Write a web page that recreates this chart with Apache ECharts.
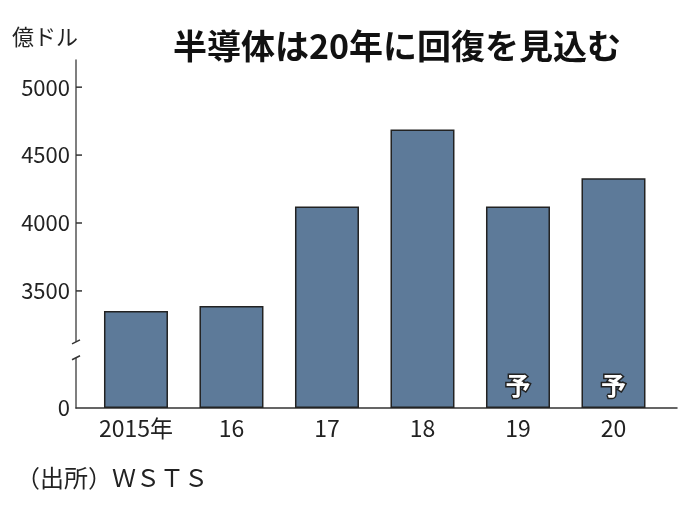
<!DOCTYPE html>
<html><head><meta charset="utf-8">
<script src="https://cdn.jsdelivr.net/npm/echarts@6/dist/echarts.min.js"></script>
<style>html,body{margin:0;padding:0;background:#fff}#c{width:696px;height:510px}</style>
</head><body><div id="c"></div>
<script>
const categories = ['2015年', '16', '17', '18', '19', '20'];
const values = [3352, 3389, 4122, 4688, 4121, 4330];
const forecast = [false, false, false, false, true, true];
const yTicks = [0, 3500, 4000, 4500, 5000];
const breakRange = [370, 3125];

const FONT = '"Noto Sans CJK JP", "Noto Sans", sans-serif';
const chart = echarts.init(document.getElementById('c'));
const X_MIN = -0.628;
chart.setOption({
  backgroundColor: '#fff',
  animation: false,
  title: {
    text: '半導体は20年に回復を見込む',
    left: 392, top: 24, textAlign: 'center',
    textStyle: { fontFamily: FONT, fontSize: 34, fontWeight: 'bold', color: '#111' }
  },
  grid: { left: 76, right: 19, top: 60, bottom: 102 },
  xAxis: {
    type: 'value', min: X_MIN, max: 5.665,
    splitLine: { show: false },
    axisLine: { show: true, onZero: false, lineStyle: { color: '#333', width: 1.5 } },
    axisTick: { show: false },
    axisLabel: {
      customValues: categories.map((c, i) => i),
      formatter: v => categories[Math.round(v)],
      fontFamily: FONT, fontSize: 23, color: '#222', margin: 9
    }
  },
  yAxis: {
    type: 'value', min: 0, max: 5200,
    breaks: [{ start: breakRange[0], end: breakRange[1], gap: 117 }],
    breakArea: { show: false },
    splitLine: { show: false },
    axisLine: { show: true, onZero: false, lineStyle: { color: '#555', width: 1.5 } },
    axisTick: { show: false },
    axisLabel: { customValues: yTicks, formatter: v => String(v), fontFamily: FONT, fontSize: 22, color: '#222', margin: 6 }
  },
  series: [{
    type: 'bar',
    barWidth: 64,
    data: values.map((v, i) => ({
      value: [i, v],
      label: forecast[i] ? {
        show: true, formatter: '予', position: 'insideBottom', distance: 10,
        fontFamily: FONT, fontSize: 25, fontWeight: 'bold', color: '#fff',
        textBorderColor: '#222', textBorderWidth: 3
      } : { show: false }
    })),
    itemStyle: { color: '#5d7a99', borderColor: '#222', borderWidth: 1.5 }
  }]
});
// break marks and ticks on the y axis line, placed via the axis scale
const pLow = chart.convertToPixel({ gridIndex: 0 }, [X_MIN, breakRange[0]]);
const pHigh = chart.convertToPixel({ gridIndex: 0 }, [X_MIN, breakRange[1]]);
const ax = pLow[0];
const tickMarks = yTicks.filter(t => t > 0).map(t => {
  const p = chart.convertToPixel({ gridIndex: 0 }, [X_MIN, t]);
  return { type: 'line', shape: { x1: ax, y1: p[1], x2: ax + 6, y2: p[1] }, style: { stroke: '#333', lineWidth: 1.5 }, z: 101 };
});
chart.setOption({
  graphic: [
    { type: 'text', left: 12, top: 26, style: { text: '億ドル', font: '22px ' + FONT, fill: '#222' } },
    { type: 'text', left: 16, top: 466, style: { text: '（出所）ＷＳＴＳ', font: '24px ' + FONT, fill: '#222' } },
    { type: 'rect', shape: { x: ax - 3, y: pHigh[1], width: 6, height: pLow[1] - pHigh[1] }, style: { fill: '#fff' }, z: 100 },
    { type: 'line', shape: { x1: ax - 4, y1: pHigh[1] + 2, x2: ax + 4, y2: pHigh[1] - 2 }, style: { stroke: '#333', lineWidth: 1.5 }, z: 101 },
    { type: 'line', shape: { x1: ax - 4, y1: pLow[1] + 2, x2: ax + 4, y2: pLow[1] - 2 }, style: { stroke: '#333', lineWidth: 1.5 }, z: 101 }
  ].concat(tickMarks)
});
</script></body></html>
